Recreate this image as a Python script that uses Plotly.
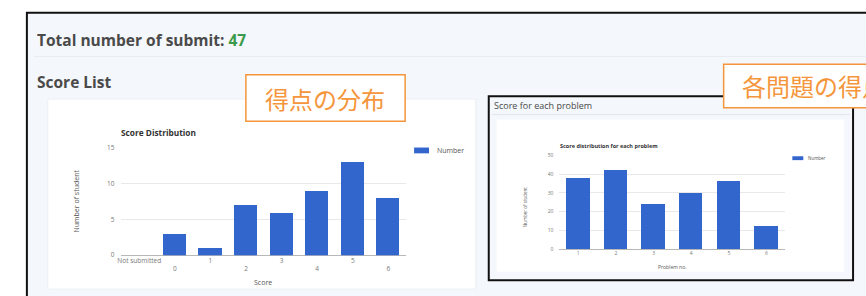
import plotly.graph_objects as go

W, H = 866, 296

# ---- data ----
score_categories = ["Not submitted", "0", "1", "2", "3", "4", "5", "6"]
score_counts = [0, 3, 1, 7, 6, 9, 13, 8]
score_yticks = [0, 5, 10, 15]

problem_categories = ["1", "2", "3", "4", "5", "6"]
problem_counts = [38, 42, 24, 30, 36, 12]
problem_yticks = [0, 10, 20, 30, 40, 50]

total_submit = 47

BAR = "#3366cc"
ORANGE = "#f5963c"
FONT = "Open Sans, Noto Sans, sans-serif"
CJK = "Noto Sans CJK JP"
TICK = "#777"


def px(x):
    return x / W


def py(y):
    return 1 - y / H


fig = go.Figure()

fig.add_trace(go.Bar(x=list(range(len(score_categories))), y=score_counts,
                     marker=dict(color=BAR, line=dict(width=0)), width=0.65,
                     name="Number", xaxis="x", yaxis="y", showlegend=False))
fig.add_trace(go.Bar(x=list(range(len(problem_categories))), y=problem_counts,
                     marker=dict(color=BAR, line=dict(width=0)), width=0.62,
                     name="Number", xaxis="x2", yaxis="y2", showlegend=False))

# staggered labels for the score axis
score_ticktext = [("<br>" + c) if i % 2 else c for i, c in enumerate(score_categories)]

grid = "#e8e8e8"
fig.update_layout(
    width=W, height=H,
    margin=dict(l=0, r=0, t=0, b=0),
    paper_bgcolor="#ffffff",
    plot_bgcolor="rgba(0,0,0,0)",
    font=dict(family=FONT, color="#555"),
    bargap=0,
    xaxis=dict(domain=[px(118), px(404)], range=[-0.5, len(score_categories) - 0.5],
               tickvals=list(range(len(score_categories))), ticktext=score_ticktext,
               tickfont=dict(size=6.5, color=TICK), showgrid=False, zeroline=False,
               showline=False, ticks="", anchor="y", fixedrange=True),
    yaxis=dict(domain=[py(258), py(147)], range=[0, 15], tickvals=score_yticks,
               tickfont=dict(size=6.5, color=TICK), gridcolor=grid, gridwidth=1,
               zeroline=True, zerolinecolor="#b8b8b8", zerolinewidth=1,
               showline=False, ticks="", ticklabelstandoff=6, anchor="x"),
    xaxis2=dict(domain=[px(558), px(785)], range=[-0.5, len(problem_categories) - 0.5],
                tickvals=list(range(len(problem_categories))), ticktext=problem_categories,
                tickfont=dict(size=5, color=TICK), showgrid=False, zeroline=False,
                showline=False, ticks="", anchor="y2"),
    yaxis2=dict(domain=[py(252), py(155)], range=[0, 50], tickvals=problem_yticks,
                tickfont=dict(size=5, color=TICK), gridcolor=grid, gridwidth=1,
                zeroline=True, zerolinecolor="#b8b8b8", zerolinewidth=1,
                showline=False, ticks="", ticklabelstandoff=5, anchor="x2"),
)

shapes = []


def rect(x0, y0, x1, y1, fill, line=None, lw=0, layer="below"):
    shapes.append(dict(type="rect", xref="paper", yref="paper",
                       x0=px(x0), x1=px(x1), y0=py(y1), y1=py(y0),
                       fillcolor=fill, line=dict(color=line or fill, width=lw), layer=layer))


# page
rect(23, 8, 920, 330, "#f4f7fb", "#111111", 2)
# faint separator under total line
shapes.append(dict(type="line", xref="paper", yref="paper", x0=px(30), x1=px(866),
                   y0=py(53), y1=py(53), line=dict(color="#e8ecf1", width=1), layer="below"))
# left card
rect(44, 97, 474, 293, "#ffffff", "#eceff3", 1)
# right framed box
rect(487, 94, 853, 284, "#f4f7fb", "#111111", 2)
shapes.append(dict(type="line", xref="paper", yref="paper", x0=px(490), x1=px(850),
                   y0=py(113), y1=py(113), line=dict(color="#e2e6eb", width=1), layer="below"))
rect(495, 118, 844, 275, "#ffffff")
# legends swatches
rect(412, 147, 427, 153, BAR)
rect(792, 156, 803, 160, BAR)
# orange callout boxes
rect(243, 72, 403, 120, "#ffffff", ORANGE, 1.5, layer="above")
rect(723, 61, 920, 106, "#ffffff", ORANGE, 1.5, layer="above")

fig.update_layout(shapes=shapes)

ann = []


def text(x, y, s, size, color="#444", xanchor="left", yanchor="middle", angle=0, family=FONT):
    ann.append(dict(x=px(x), y=py(y), xref="paper", yref="paper", text=s, showarrow=False,
                    xanchor=xanchor, yanchor=yanchor, textangle=angle,
                    font=dict(size=size, color=color, family=family)))


text(31, 36, "<b>Total number of submit: <span style='color:#3c9a4c'>%d</span></b>" % total_submit, 15.5, "#4a4a4a")
text(31, 79, "<b>Score List</b>", 15.5, "#4a4a4a")
text(116, 131, "<b>Score Distribution</b>", 8.3, "#333")
text(73, 202, "Number of student", 7, "#555", "center", angle=-90)
text(260, 286, "Score", 7, "#555", "center")
text(433, 150, "Number", 7, "#555")

text(490, 104, "Score for each problem", 9, "#4a4a4a")
text(557, 145, "<b>Score distribution for each problem</b>", 5.5, "#333")
text(523, 208, "Number of student", 4.5, "#555", "center", angle=-90)
text(672, 270, "Problem no.", 5, "#555", "center")
text(806, 158, "Number", 4.5, "#555")

text(322, 96, "得点の分布", 24, ORANGE, "center", family=CJK)
text(739, 83, "各問題の得点", 24, ORANGE, family=CJK)

fig.update_layout(annotations=ann)

fig.write_html("out.html", config={"displayModeBar": False},
               post_script="document.body.style.margin='0';document.body.style.overflow='hidden';")
